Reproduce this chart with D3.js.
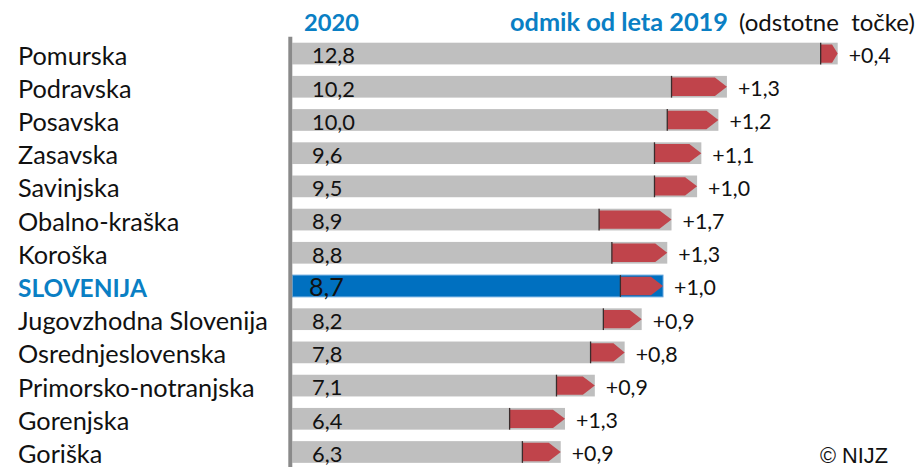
<!DOCTYPE html>
<html><head><meta charset="utf-8">
<script src="https://cdn.jsdelivr.net/npm/d3@7"></script>
<style>
html,body{margin:0;padding:0;background:#fff;}
svg{display:block;}
</style></head>
<body>
<svg id="chart" width="922" height="467"></svg>
<script>
const categories = ["Pomurska","Podravska","Posavska","Zasavska","Savinjska","Obalno-kraška","Koroška","SLOVENIJA","Jugovzhodna Slovenija","Osrednjeslovenska","Primorsko-notranjska","Gorenjska","Goriška"];
const values2020 = [12.8,10.2,10.0,9.6,9.5,8.9,8.8,8.7,8.2,7.8,7.1,6.4,6.3];
const diffFrom2019 = [0.4,1.3,1.2,1.1,1.0,1.7,1.3,1.0,0.9,0.8,0.9,1.3,0.9];
const highlight = "SLOVENIJA";
const headerYear = "2020";
const headerDiffBold = "odmik od leta 2019";
const headerDiffUnit = "(odstotne  točke)";
const credit = "© NIJZ";

const FONT = "Lato, 'Open Sans', sans-serif";
const fmt = v => v.toFixed(1).replace(".", ",");
const fmtD = v => (v >= 0 ? "+" : "") + v.toFixed(1).replace(".", ",");

const svg = d3.select("#chart");
const x = d3.scaleLinear().domain([0, 13]).range([292.3, 292.3 + 13 * 42.61]);
const y = d3.scaleBand().domain(categories).range([36.96, 468.6]).paddingInner(0.346).paddingOuter(0.173);
const bh = y.bandwidth();

function fit(sel, target, base) {
  sel.attr("font-size", base);
  const w = sel.node().getComputedTextLength();
  sel.attr("font-size", base * target / w);
  return base * target / w;
}

// header
fit(svg.append("text").attr("x", 304).attr("y", 31).attr("font-family", FONT).attr("font-weight", "bold")
  .attr("fill", "#0a7fc4").text(headerYear), 55, 20);
fit(svg.append("text").attr("x", 510).attr("y", 31).attr("font-family", FONT).attr("font-weight", "bold")
  .attr("fill", "#0a7fc4").text(headerDiffBold), 218, 20);
fit(svg.append("text").attr("x", 739).attr("y", 31).attr("font-family", FONT).attr("xml:space", "preserve")
  .attr("fill", "#111").text(headerDiffUnit), 176, 20);

// bars
const rows = categories.map((c, i) => ({c, v: values2020[i], d: diffFrom2019[i]}));
const g = svg.append("g");

g.selectAll("rect.bar").data(rows).join("rect")
  .attr("x", x(0)).attr("y", d => y(d.c))
  .attr("width", d => x(d.v) - x(0)).attr("height", bh)
  .attr("fill", d => d.c === highlight ? "#0070c0" : "#bfbfbf")
  .attr("stroke", d => d.c === highlight ? "#5fa3dc" : "none")
  .attr("stroke-width", 1);

// arrows
const inset = 1.7;
g.selectAll("polygon.arrow").data(rows).join("polygon")
  .attr("fill", "#c0444b")
  .attr("points", d => {
    const x0 = x(d.v - d.d), x1 = x(d.v);
    const tip = Math.min(12, (x1 - x0) * 0.33);
    const t = y(d.c) + inset, b = y(d.c) + bh - inset, m = y(d.c) + bh / 2;
    return [[x0, t], [x1 - tip, t], [x1, m], [x1 - tip, b], [x0, b]].map(p => p.join(",")).join(" ");
  });
g.selectAll("line.start").data(rows).join("line")
  .attr("x1", d => x(d.v - d.d)).attr("x2", d => x(d.v - d.d))
  .attr("y1", d => y(d.c)).attr("y2", d => y(d.c) + bh)
  .attr("stroke", "#3a2c2c").attr("stroke-width", 1.3);

// axis line
svg.append("line").attr("x1", 290.3).attr("x2", 290.3).attr("y1", 36.7).attr("y2", 467)
  .attr("stroke", "#8a8a8a").attr("stroke-width", 4);

// category labels
const catLabels = svg.selectAll("text.cat").data(rows).join("text")
  .attr("class", "cat")
  .attr("x", 18).attr("y", d => y(d.c) + bh / 2 + 11)
  .attr("font-family", FONT)
  .attr("font-weight", d => d.c === highlight ? "bold" : "normal")
  .attr("fill", d => d.c === highlight ? "#0a7fc4" : "#111")
  .text(d => d.c);
const ref = catLabels.filter(d => d.c === "Jugovzhodna Slovenija");
ref.attr("font-size", 20);
const catSize = 20 * 250 / ref.node().getComputedTextLength();
catLabels.attr("font-size", catSize);
fit(catLabels.filter(d => d.c === highlight), 129, catSize);

// value labels
const valLabels = svg.selectAll("text.val").data(rows).join("text")
  .attr("class", "val")
  .attr("x", d => d.c === highlight ? 309 : 312)
  .attr("y", d => y(d.c) + bh / 2 + (d.c === highlight ? 10.5 : 9.8))
  .attr("font-family", FONT).attr("fill", "#111")
  .text(d => fmt(d.v));
const vref = valLabels.filter((d, i) => i === 0);
vref.attr("font-size", 20);
const valSize = 20 * 43 / vref.node().getComputedTextLength();
valLabels.attr("font-size", d => d.c === highlight ? valSize * 1.15 : valSize);

// diff labels
const dLabels = svg.selectAll("text.diff").data(rows).join("text")
  .attr("class", "diff")
  .attr("x", d => x(d.v) + 11)
  .attr("y", d => y(d.c) + bh / 2 + 9.5)
  .attr("font-family", FONT).attr("fill", "#111")
  .text(d => fmtD(d.d));
const dref = dLabels.filter((d, i) => i === 0);
dref.attr("font-size", 20);
const dSize = 20 * 42 / dref.node().getComputedTextLength();
dLabels.attr("font-size", dSize);

// credit
const cr = svg.append("text").attr("x", 820).attr("y", 463).attr("font-family", "'Liberation Sans', Arial, sans-serif")
  .attr("fill", "#111").text(credit);
fit(cr, 68, 18);
</script>
</body></html>
